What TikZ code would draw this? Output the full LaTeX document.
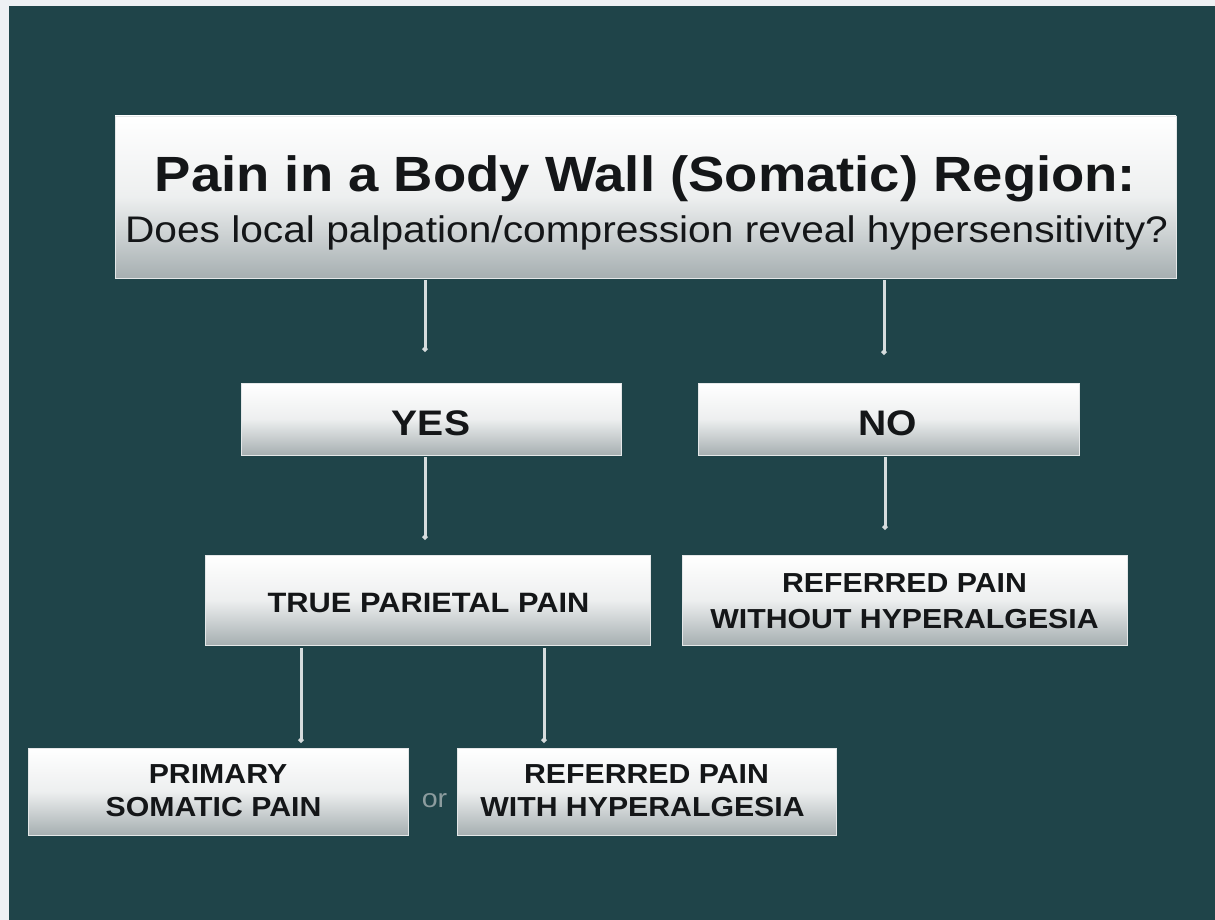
\documentclass[tikz,border=0pt]{standalone}
\usepackage{fontspec}
\setmainfont{Liberation Sans}
\newfontfamily\wide[FakeStretch=1.1]{Liberation Sans}
\usetikzlibrary{arrows.meta}
\definecolor{bgteal}{RGB}{31,68,73}
\definecolor{paper}{RGB}{238,241,244}
\definecolor{boxgray}{RGB}{166,175,177}
\definecolor{linegray}{RGB}{214,220,221}
\definecolor{ortext}{RGB}{140,156,158}
\definecolor{ink}{RGB}{20,22,24}
\tikzset{
  box/.style={rectangle, inner sep=0pt, top color=white, bottom color=boxgray, middle color=white!80!boxgray, draw=white!70!boxgray, line width=0.6pt},
  conn/.style={draw=linegray, line width=3pt, -{Circle[length=5pt,width=5pt]}},
  lbl/.style={anchor=base, text=ink, inner sep=0pt, font=\wide\bfseries},
}
\begin{document}
\begin{tikzpicture}[x=1pt,y=-1pt]
\useasboundingbox (0,0) rectangle (1215,920);
\fill[paper] (0,0) rectangle (1215,920);
\fill[bgteal] (9,6) rectangle (1215,920);
% boxes
\node[box, minimum width=1061pt, minimum height=162pt] (top) at (645.5,197) {};
\node[box, minimum width=380pt, minimum height=72pt] (yes) at (431,419) {};
\node[box, minimum width=381pt, minimum height=72pt] (no) at (888.5,419) {};
\node[box, minimum width=445pt, minimum height=90pt] (tpp) at (427.5,600) {};
\node[box, minimum width=445pt, minimum height=90pt] (rwo) at (904.5,600) {};
\node[box, minimum width=380pt, minimum height=87pt] (prim) at (218,791.5) {};
\node[box, minimum width=379pt, minimum height=87pt] (rwh) at (646.5,791.5) {};
% texts
\node[lbl, font=\wide\bfseries\fontsize{49.5}{55}\selectfont] (t1) at (645.5,192) {Pain in a Body Wall (Somatic) Region:};
\node[lbl, font=\wide\fontsize{37}{42}\selectfont] (t2) at (646.5,242) {Does local palpation/compression reveal hypersensitivity?};
\node[lbl, font=\wide\bfseries\fontsize{35.5}{40}\selectfont] (tyes) at (431,435) {YES};
\node[lbl, font=\wide\bfseries\fontsize{35.5}{40}\selectfont] (tno) at (888,435) {NO};
\node[lbl, font=\wide\bfseries\fontsize{28}{33}\selectfont] (ttpp) at (428.5,612) {TRUE PARIETAL PAIN};
\node[lbl, font=\wide\bfseries\fontsize{27.5}{33}\selectfont] (trwo1) at (904.5,592) {REFERRED PAIN};
\node[lbl, font=\wide\bfseries\fontsize{27.5}{33}\selectfont] (trwo2) at (904.5,628) {WITHOUT HYPERALGESIA};
\node[lbl, font=\wide\bfseries\fontsize{27.5}{33}\selectfont] (tprim1) at (218,783) {PRIMARY};
\node[lbl, font=\wide\bfseries\fontsize{27.5}{33}\selectfont] (tprim2) at (213.5,816) {SOMATIC PAIN};
\node[lbl, font=\wide\bfseries\fontsize{27.5}{33}\selectfont] (trwh1) at (646.5,783) {REFERRED PAIN};
\node[lbl, font=\wide\bfseries\fontsize{27.5}{33}\selectfont] (trwh2) at (642.5,816) {WITH HYPERALGESIA};
\node[anchor=base, inner sep=0pt, text=ortext, font=\wide\fontsize{26}{30}\selectfont] (or) at (434.5,807) {or};
% connector columns
\coordinate (c1) at (425,0);
\coordinate (c2) at (884,0);
\coordinate (c3) at (885,0);
\coordinate (c4) at (301,0);
\coordinate (c5) at (544,0);
\draw[conn, shorten <=2pt, shorten >=31pt] (top.south -| c1) -- (yes.north -| c1);
\draw[conn, shorten <=2pt, shorten >=28pt] (top.south -| c2) -- (no.north -| c2);
\draw[conn, shorten <=2pt, shorten >=15pt] (yes.south -| c1) -- (tpp.north -| c1);
\draw[conn, shorten <=2pt, shorten >=25pt] (no.south -| c3) -- (rwo.north -| c3);
\draw[conn, shorten <=3pt, shorten >=5pt] (tpp.south -| c4) -- (prim.north -| c4);
\draw[conn, shorten <=3pt, shorten >=5pt] (tpp.south -| c5) -- (rwh.north -| c5);
\end{tikzpicture}
\end{document}
